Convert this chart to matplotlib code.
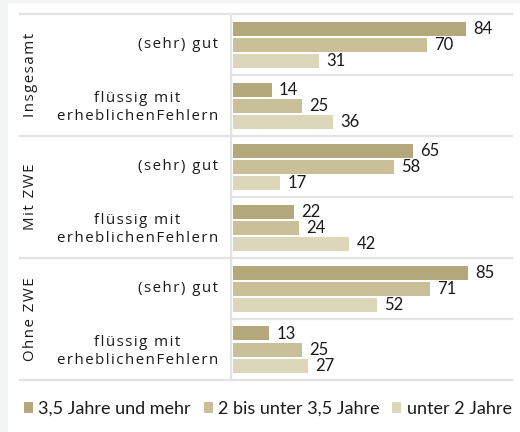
import numpy as np
import matplotlib.pyplot as plt
from matplotlib.patches import Rectangle

groups = ["Insgesamt", "Mit ZWE", "Ohne ZWE"]
subcats = ["(sehr) gut", "flüssig mit\nerheblichenFehlern"]
series = ["3,5 Jahre und mehr", "2 bis unter 3,5 Jahre", "unter 2 Jahre"]
lang = [84, 14, 65, 22, 85, 13]      # 3,5 Jahre und mehr
mittel = [70, 25, 58, 24, 71, 25]    # 2 bis unter 3,5 Jahre
kurz = [31, 36, 17, 42, 52, 27]      # unter 2 Jahre
colors = ["#b2a87c", "#c9c09a", "#dcd6ba"]
grid_col = "#e3e3e3"


def tracked(s, gap="\u200a"):
    # widen letter spacing line by line
    return "\n".join(gap.join(line) for line in s.split("\n"))


W, H = 520, 432
fig = plt.figure(figsize=(W / 100, H / 100), dpi=100, facecolor="#f3f4f4")
# white panel
fig.patches.append(Rectangle((8 / W, 0), 1, 1 - 3 / H, transform=fig.transFigure,
                             facecolor="white", edgecolor="none", zorder=-5))

top_px, bot_px = 14, 380
ax = fig.add_axes([233 / W, 1 - bot_px / H, (510 - 233) / W, (bot_px - top_px) / H])
ax.set_facecolor("none")
ax.set_xlim(0, 100)
ax.set_ylim(6, 0)
ax.axis("off")

rows = np.arange(6) + 0.5
offs = [-16 / 61, 0, 16 / 61]
bh = 14 / 61
for vals, off, c in zip([lang, mittel, kurz], offs, colors):
    bars = ax.barh(rows + off, vals, height=bh, color=c, zorder=2)
    for b, v in zip(bars, vals):
        ax.text(v + 2.6, b.get_y() + bh / 2 + 0.01, str(v), va="center", ha="left",
                fontsize=12, family="Lato", color="#1a1a1a")

# row separators
for i in range(7):
    ax.plot([-0.6, 100.8], [i, i], color=grid_col, lw=1.6, clip_on=False, zorder=1)
ax.plot([-0.6, -0.6], [0, 6], color=grid_col, lw=1.6, clip_on=False, zorder=1)

# label column
lab = fig.add_axes([20 / W, 1 - bot_px / H, (232 - 20) / W, (bot_px - top_px) / H])
lab.set_facecolor("none")
lab.set_xlim(20, 232)
lab.set_ylim(6, 0)
lab.axis("off")
fam = ["Open Sans", "DejaVu Sans"]
for i in (0, 2, 4, 6):
    lab.plot([20, 232], [i, i], color=grid_col, lw=1.6, clip_on=False)
for g, name in enumerate(groups):
    lab.text(31, 2 * g + 1, tracked(name), rotation=90, ha="center", va="center",
             fontsize=10.8, family=fam, color="#1a1a1a")
    for s, sub in enumerate(subcats):
        y = 2 * g + s + 0.5
        if s == 1:
            y += 0.03
        lab.text(218, y, tracked(sub), ha="right", va="center", multialignment="center",
                 fontsize=10.8, family=fam, color="#1a1a1a", linespacing=1.22)

# legend
handles = [Rectangle((0, 0), 1, 1, facecolor=c) for c in colors]
fig.legend(handles, series, loc="center left", bbox_to_anchor=(24 / W, 1 - 409 / H),
           ncol=3, frameon=False, handlelength=0.5, handleheight=0.5,
           handletextpad=0.3, columnspacing=0.7, borderpad=0, borderaxespad=0,
           prop={"family": "Lato", "size": 13}, labelcolor="#1a1a1a")

fig.savefig("out.png", dpi=100, facecolor=fig.get_facecolor())
